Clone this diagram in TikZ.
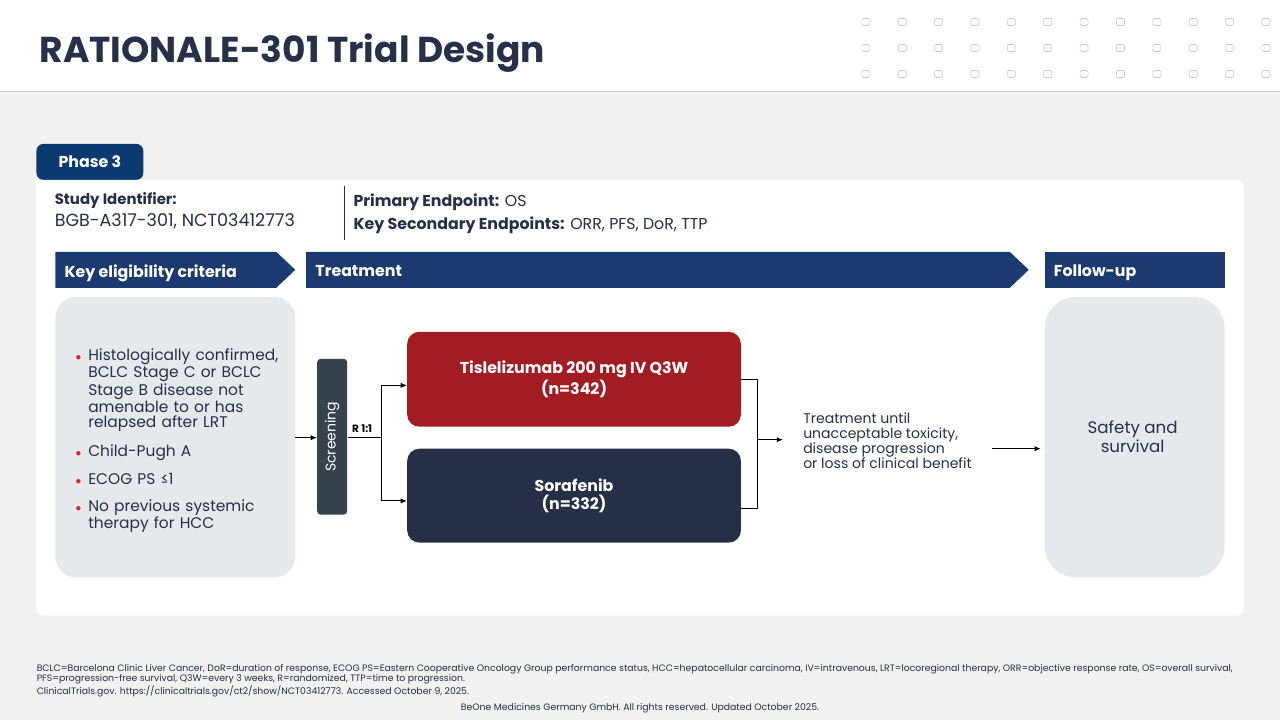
\documentclass[tikz,border=0pt]{standalone}
\usepackage{fontspec}
\setmainfont{Poppins}
\usetikzlibrary{positioning,arrows.meta,calc}
\definecolor{slideBg}{RGB}{241,241,241}
\definecolor{titleNavy}{RGB}{38,48,72}
\definecolor{bandNavy}{RGB}{27,58,111}
\definecolor{tabNavy}{RGB}{10,58,112}
\definecolor{armRed}{RGB}{163,28,34}
\definecolor{armNavy}{RGB}{38,47,71}
\definecolor{screenGrey}{RGB}{54,67,79}
\definecolor{boxGrey}{RGB}{230,233,236}
\definecolor{dotGrey}{RGB}{200,203,208}
\definecolor{bulletRed}{RGB}{214,40,50}

\begin{document}
\begin{tikzpicture}[x=0.02cm, y=-0.02cm, text=titleNavy,
    band/.style={fill=bandNavy, text=white, font=\fontsize{9}{11}\selectfont\bfseries, anchor=west, text depth=0pt},
    armbox/.style={rounded corners=7pt, text=white, align=center, font=\fontsize{9}{12}\selectfont\bfseries},
    link/.style={draw=black, line width=0.5pt},
    linkarrow/.style={link, -{Latex[length=3.5pt,width=3pt]}}]
		% Background and header
		\fill[slideBg] (0,0) rectangle (1280,720);
		\fill[white] (0,0) rectangle (1280,92);
		\draw[dotGrey, line width=0.5pt] (0,92) -- (1280,92);
		\useasboundingbox (0,0) rectangle (1280,720);
		\foreach \col in {0,...,11}
			\foreach \row in {22,48,74}
				\draw[dotGrey, line width=0.4pt, rounded corners=0.8pt] ($(866+\col*36.4,\row)+(-4,-3.5)$) rectangle ++(8,7);
		\node[anchor=west, font=\fontsize{20.5}{24}\selectfont\bfseries] (title) at (33,53) {RATIONALE-301 Trial Design};
		
		% Panel
		\fill[tabNavy, rounded corners=4pt] (36,180) -- (36,144) -- (143,144) -- (143,180) -- cycle;
		\node[text=white, font=\fontsize{9}{11}\selectfont\bfseries] (phase) at (89.5,162) {Phase 3};
		\fill[white, rounded corners=4pt] (36,180) rectangle (1244,616);
		\fill[white] (36,180) rectangle (143,190);
		
		% Study info
		\node[anchor=west, font=\fontsize{8.5}{10}\selectfont\bfseries, inner sep=0] (sidlabel) at (54,201) {Study Identifier:};
		\node[anchor=west, font=\fontsize{10}{12}\selectfont, inner sep=0] (sid) at (54,221) {BGB-A317-301, NCT03412773};
		\draw[titleNavy, line width=0.6pt] (344,186) -- (344,240);
		\node[anchor=west, font=\fontsize{9}{11}\selectfont, inner sep=0] (primary) at (353,202) {\textbf{Primary Endpoint:} OS};
		\node[anchor=west, font=\fontsize{9}{11}\selectfont, inner sep=0] (secondary) at (353,225) {\textbf{Key Secondary Endpoints:} ORR, PFS, DoR, TTP};
		
		% Bands
		\fill[bandNavy] (55,252) -- (276,252) -- (295,270) -- (276,288) -- (55,288) -- cycle;
		\fill[bandNavy] (306,252) -- (1010,252) -- (1029,270) -- (1010,288) -- (306,288) -- cycle;
		\fill[bandNavy] (1045,252) rectangle (1225,288);
		\node[band] (elig) at (58,271) {Key eligibility criteria};
		\node[band] (treat) at (309,271) {Treatment};
		\node[band] (follow) at (1048,271) {Follow-up};
		
		% Criteria and follow-up boxes
		\fill[boxGrey, rounded corners=12pt] (55,297) rectangle (295,578);
		\fill[boxGrey, rounded corners=18pt] (1045,297) rectangle (1225,578);
		\node[anchor=north west, text width=214*0.02cm, align=left, inner sep=0,
			font=\fontsize{8.8}{8.4}\selectfont] (criteria) at (70,346) {%
			\begin{list}{\textcolor{bulletRed}{\scalebox{0.7}{$\bullet$}}}{\leftmargin=10pt\labelwidth=6pt\labelsep=4pt\itemsep=6.5pt\parsep=0pt\topsep=0pt}
			\item Histologically confirmed, BCLC Stage C or BCLC Stage B disease not amenable to or has relapsed after LRT
			\item Child-Pugh A
			\item ECOG PS ≤1
			\item No previous systemic therapy for HCC
			\end{list}};
		\node[align=center, font=\fontsize{9.5}{11}\selectfont] (safety) at (1133,437) {Safety and\\survival};
		
		% Flow
		\node[fill=screenGrey, rounded corners=2pt, minimum width=30*0.02cm, minimum height=156*0.02cm, inner sep=0] (screen) at (332,437) {};
		\node[rotate=90, text=white, font=\fontsize{8}{10}\selectfont] (screenlabel) at (screen.center) {Screening};
		\node[armbox, fill=armRed, minimum width=334*0.02cm, minimum height=95*0.02cm] (tisle) at (574,379.5) {Tislelizumab 200 mg IV Q3W\\(n=342)};
		\node[armbox, fill=armNavy, minimum width=334*0.02cm, minimum height=94*0.02cm] (sora) at (574,496) {Sorafenib\\[-2pt](n=332)};
		\node[anchor=west, align=left, font=\fontsize{8}{8.6}\selectfont, inner sep=0] (until) at (803,441) {Treatment until\\unacceptable toxicity,\\disease progression\\or loss of clinical benefit};
		\node[font=\fontsize{6}{7}\selectfont\bfseries, text=black, inner sep=1pt] (ratio) at (362,429) {R 1:1};
		
		\coordinate (entry) at (295,438);
		\coordinate (split) at (381,438);
		\coordinate (merge) at (758,440);
		\coordinate (mergeend) at (783,440);
		\coordinate (fustart) at (992,449);
		\coordinate (fuend) at (1041,449);
		\draw[linkarrow] (entry) -- (entry -| screen.west);
		\draw[link] (screen.east |- split) -- (split);
		\draw[linkarrow] (split) |- ([yshift=-3.5pt]tisle.west);
		\draw[linkarrow] (split) |- ([yshift=-3pt]sora.west);
		\draw[link] (tisle.east) -| (merge);
		\draw[link] ([yshift=-7pt]sora.east) -| (merge);
		\draw[linkarrow] (merge) -- (mergeend);
		\draw[linkarrow] (fustart) -- (fuend);
		
		% Footnotes
		\node[anchor=north west, align=left, inner sep=0, font=\fontsize{5.3}{5.9}\selectfont] (notes) at (36,664) {BCLC=Barcelona Clinic Liver Cancer, DoR=duration of response, ECOG PS=Eastern Cooperative Oncology Group performance status, HCC=hepatocellular carcinoma, IV=intravenous, LRT=locoregional therapy, ORR=objective response rate, OS=overall survival,\\PFS=progression-free survival, Q3W=every 3 weeks, R=randomized, TTP=time to progression.\\ClinicalTrials.gov. https://clinicaltrials.gov/ct2/show/NCT03412773. Accessed October 9, 2025.};
		\node[font=\fontsize{5.3}{5.9}\selectfont] (copyright) at (640,709) {BeOne Medicines Germany GmbH. All rights reserved. Updated October 2025.};
	\end{tikzpicture}
\end{document}
